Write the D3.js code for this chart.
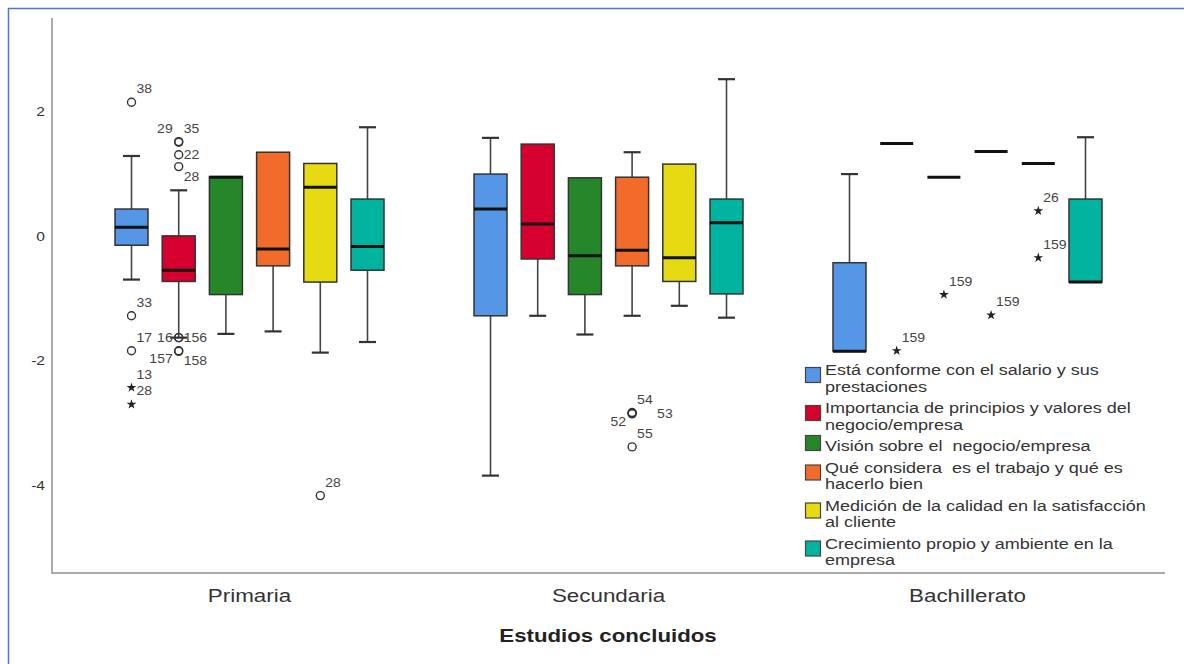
<!DOCTYPE html>
<html>
<head>
<meta charset="utf-8">
<script src="https://cdn.jsdelivr.net/npm/d3@7"></script>
<style>
  body { margin: 0; background: #fff; }
  svg { display: block; font-family: Arial, "Liberation Sans", sans-serif; }
  .tick text { fill: #333; font-size: 13px; }
  .lab { fill: #444; font-size: 12.5px; }
  .legend text { fill: #333; font-size: 15px; white-space: pre; }
</style>
</head>
<body>
<svg width="1184" height="664"></svg>
<script>
// categories and series
const groups = ['Primaria', 'Secundaria', 'Bachillerato'];
const seriesNames = [
  ['Está conforme con el salario y sus', 'prestaciones'],
  ['Importancia de principios y valores del', 'negocio/empresa'],
  ['Visión sobre el  negocio/empresa'],
  ['Qué considera  es el trabajo y qué es', 'hacerlo bien'],
  ['Medición de la calidad en la satisfacción', 'al cliente'],
  ['Crecimiento propio y ambiente en la', 'empresa']
];
const colors = ['#5596e6', '#d6002f', '#26862a', '#f26b2a', '#e6da12', '#00b39e'];
const yTicks = [-4, -2, 0, 2];

// [lower whisker, q1, median, q3, upper whisker] per series
const primaria = [
  [-0.70, -0.15, 0.14, 0.43, 1.28],
  [-1.63, -0.73, -0.55, 0.00, 0.73],
  [-1.57, -0.94, 0.94, 0.95, 0.95],
  [-1.53, -0.48, -0.21, 1.34, 1.34],
  [-1.87, -0.74, 0.78, 1.16, 1.16],
  [-1.70, -0.55, -0.17, 0.59, 1.74]
];
const secundaria = [
  [-3.84, -1.28, 0.43, 0.99, 1.57],
  [-1.28, -0.37, 0.19, 1.47, 1.47],
  [-1.58, -0.94, -0.32, 0.93, 0.93],
  [-1.28, -0.48, -0.23, 0.94, 1.34],
  [-1.12, -0.73, -0.35, 1.15, 1.15],
  [-1.31, -0.93, 0.21, 0.59, 2.51]
];
const bachillerato = [
  [-1.85, -1.85, -1.85, -0.43, 0.99],
  [1.48, 1.48, 1.48, 1.48, 1.48],
  [0.94, 0.94, 0.94, 0.94, 0.94],
  [1.35, 1.35, 1.35, 1.35, 1.35],
  [1.16, 1.16, 1.16, 1.16, 1.16],
  [-0.74, -0.74, -0.74, 0.59, 1.58]
];
const boxStats = [primaria, secundaria, bachillerato];

// outliers: group, series, value, case label, shape, label side
const outliers = [
  [0, 0, 2.14, '38', 'o', 'ur'],
  [0, 0, -1.28, '33', 'o', 'ur'],
  [0, 0, -1.84, '17', 'o', 'ur'],
  [0, 0, -2.43, '13', '*', 'ur'],
  [0, 0, -2.70, '28', '*', 'ur'],
  [0, 1, 1.50, '29', 'o', 'ul'],
  [0, 1, 1.51, '35', 'o', 'ur'],
  [0, 1, 1.30, '22', 'o', 'r'],
  [0, 1, 1.11, '28', 'o', 'lr'],
  [0, 1, -1.63, '16', 'o', 'l'],
  [0, 1, -1.63, '156', 'o', 'r'],
  [0, 1, -1.84, '157', 'o', 'll'],
  [0, 1, -1.85, '158', 'o', 'lr'],
  [0, 4, -4.16, '28', 'o', 'ur'],
  [1, 3, -2.83, '54', 'o', 'ur'],
  [1, 3, -2.84, '53', 'o', 'rr'],
  [1, 3, -2.85, '52', 'o', 'll'],
  [1, 3, -3.38, '55', 'o', 'ur'],
  [2, 1, -1.84, '159', '*', 'ur'],
  [2, 2, -0.94, '159', '*', 'ur'],
  [2, 3, -1.27, '159', '*', 'ur'],
  [2, 4, 0.40, '26', '*', 'ur'],
  [2, 4, -0.35, '159', '*', 'ur']
];

const svg = d3.select('svg');

// the source picture is stretched sideways, so text gets the same stretch
const stretch = (sel, sx, x, y) => sel.attr('transform', `translate(${x},${y}) scale(${sx},1)`);

// frame
svg.append('rect')
   .attr('x', 8.5).attr('y', 8.5)
   .attr('width', 1200).attr('height', 700)
   .attr('fill', 'none').attr('stroke', '#4a78d0').attr('stroke-width', 1.5);

const yScale = d3.scaleLinear().domain([-5.4, 3.49]).range([573, 18]);
const xScale = d3.scaleBand().domain(groups).range([70, 1147]);
const step = 47.2, boxW = 33, capW = 17;
const cx = (g, s) => xScale(groups[g]) + xScale.bandwidth() / 2 + (s - 2.5) * step;

// axes
svg.append('g')
   .attr('transform', 'translate(45,0)')
   .call(d3.axisLeft(yScale).tickValues(yTicks).tickSize(0).tickPadding(0).tickFormat(d => String(d)))
   .call(g => g.select('.domain').remove())
   .selectAll('text').attr('transform', 'scale(1.2,1)');

svg.append('path')
   .attr('d', 'M52,18V573H1165')
   .attr('fill', 'none').attr('stroke', '#ababab').attr('stroke-width', 2);

svg.append('g')
   .attr('transform', 'translate(0,573)')
   .call(d3.axisBottom(xScale).tickSize(0).tickPadding(17))
   .call(g => g.select('.domain').remove())
   .selectAll('text').style('font-size', '17.5px').attr('fill', '#333')
   .attr('transform', 'scale(1.28,1)');

svg.append('text')
   .attr('text-anchor', 'middle')
   .style('font-size', '17.5px').style('font-weight', 'bold').attr('fill', '#222')
   .text('Estudios concluidos')
   .call(stretch, 1.27, 608, 642);

// boxes
const chart = svg.append('g');
boxStats.forEach((grp, g) => {
  grp.forEach((st, s) => {
    const [lo, q1, med, q3, hi] = st;
    const x = cx(g, s);
    const gg = chart.append('g');
    if (hi > q3) {
      gg.append('line').attr('x1', x).attr('x2', x).attr('y1', yScale(q3)).attr('y2', yScale(hi))
        .attr('stroke', '#444').attr('stroke-width', 1.6);
      gg.append('line').attr('x1', x - capW / 2).attr('x2', x + capW / 2).attr('y1', yScale(hi)).attr('y2', yScale(hi))
        .attr('stroke', '#333').attr('stroke-width', 2.2);
    }
    if (lo < q1) {
      gg.append('line').attr('x1', x).attr('x2', x).attr('y1', yScale(q1)).attr('y2', yScale(lo))
        .attr('stroke', '#444').attr('stroke-width', 1.6);
      gg.append('line').attr('x1', x - capW / 2).attr('x2', x + capW / 2).attr('y1', yScale(lo)).attr('y2', yScale(lo))
        .attr('stroke', '#333').attr('stroke-width', 2.2);
    }
    if (q3 > q1) {
      gg.append('rect')
        .attr('x', x - boxW / 2).attr('y', yScale(q3))
        .attr('width', boxW).attr('height', yScale(q1) - yScale(q3))
        .attr('fill', colors[s]).attr('stroke', '#333').attr('stroke-width', 1.5);
    }
    gg.append('line').attr('x1', x - boxW / 2).attr('x2', x + boxW / 2)
      .attr('y1', yScale(med)).attr('y2', yScale(med))
      .attr('stroke', '#111').attr('stroke-width', 3);
  });
});

// outliers
const off = {
  ur: [5, -9, 'start'], ul: [-6, -9, 'end'], r: [5, 4, 'start'], rr: [25, 5, 'start'],
  lr: [5, 14, 'start'], l: [-6, 4, 'end'], ll: [-6, 12, 'end']
};
outliers.forEach(([g, s, v, lab, shape, side]) => {
  const x = cx(g, s), y = yScale(v);
  if (shape === 'o') {
    chart.append('circle').attr('cx', x).attr('cy', y).attr('r', 4)
      .attr('fill', 'none').attr('stroke', '#333').attr('stroke-width', 1.4);
  } else {
    chart.append('path').attr('transform', `translate(${x},${y})`)
      .attr('d', d3.symbol(d3.symbolStar, 30)()).attr('fill', '#222');
  }
  const o = off[side];
  chart.append('text').attr('class', 'lab')
    .attr('text-anchor', o[2])
    .text(lab)
    .call(stretch, 1.12, x + o[0], y + o[1]);
});

// legend
const legend = svg.append('g').attr('class', 'legend');
let ly = 370;
seriesNames.forEach((lines, i) => {
  const blockC = ly + (lines.length - 1) * 8;
  legend.append('rect')
    .attr('x', 805.5).attr('y', blockC - 3 - 7.5)
    .attr('width', 15).attr('height', 15)
    .attr('fill', colors[i]).attr('stroke', '#444').attr('stroke-width', 1.2);
  lines.forEach((t, k) => {
    legend.append('text')
      .attr('xml:space', 'preserve')
      .text(t)
      .call(stretch, 1.2, 825, ly + k * 16.5 + 5);
  });
  ly += lines.length * 16.5 + 5;
});
</script>
</body>
</html>
